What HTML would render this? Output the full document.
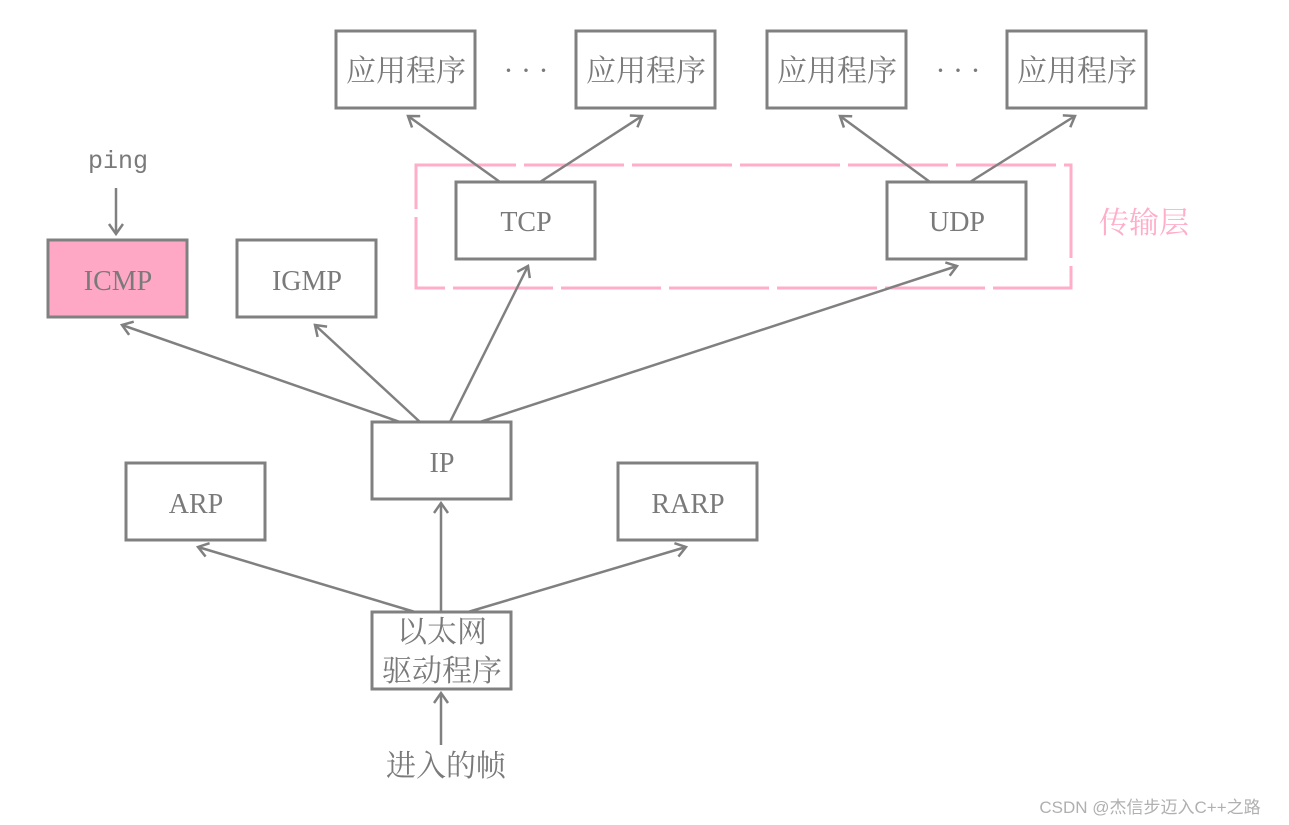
<!DOCTYPE html>
<html><head><meta charset="utf-8"><style>
html,body{margin:0;padding:0;background:#fff;}
svg{display:block;}
text{font-family:"Liberation Serif","Noto Serif CJK SC",serif;fill:#7a7a7a;}
</style></head><body>
<svg width="1289" height="825" viewBox="0 0 1289 825" xmlns="http://www.w3.org/2000/svg">
<defs>
<marker id="a" markerWidth="20" markerHeight="20" refX="12" refY="8" orient="auto" markerUnits="userSpaceOnUse">
<path d="M2,1 L12,8 L2,15" fill="none" stroke="#808080" stroke-width="2.5"/>
</marker>
</defs>
<g stroke="#808080" stroke-width="3" fill="#fff">
<rect x="336" y="31" width="139" height="77"/>
<rect x="576" y="31" width="139" height="77"/>
<rect x="767" y="31" width="139" height="77"/>
<rect x="1007" y="31" width="139" height="77"/>
<rect x="456" y="182" width="139" height="77"/>
<rect x="887" y="182" width="139" height="77"/>
<rect x="48" y="240" width="139" height="77" fill="#ffa8c5"/>
<rect x="237" y="240" width="139" height="77"/>
<rect x="372" y="422" width="139" height="77"/>
<rect x="126" y="463" width="139" height="77"/>
<rect x="618" y="463" width="139" height="77"/>
<rect x="372" y="612" width="139" height="77"/>
</g>
<rect x="416" y="165" width="655" height="123" fill="none" stroke="#ffadc8" stroke-width="3" stroke-dasharray="100 8"/>
<g stroke="#808080" stroke-width="2.5" fill="none" marker-end="url(#a)">
<line x1="500" y1="182" x2="408" y2="116"/>
<line x1="540" y1="182" x2="642" y2="116"/>
<line x1="930" y1="182" x2="840" y2="116"/>
<line x1="970" y1="182" x2="1075" y2="116"/>
<line x1="400" y1="422" x2="122" y2="325"/>
<line x1="420" y1="422" x2="315" y2="325"/>
<line x1="450" y1="422" x2="528" y2="266"/>
<line x1="480" y1="422" x2="957" y2="266"/>
<line x1="415" y1="612" x2="198" y2="547"/>
<line x1="441" y1="612" x2="441" y2="503"/>
<line x1="468" y1="612" x2="686" y2="547"/>
<line x1="441" y1="745" x2="441" y2="693"/>
<line x1="116" y1="188" x2="116" y2="234"/>
</g>
<g font-size="30" text-anchor="middle">
<text x="406" y="81">应用程序</text>
<text x="646" y="81">应用程序</text>
<text x="837" y="81">应用程序</text>
<text x="1077" y="81">应用程序</text>
<text x="526" y="80">· · ·</text>
<text x="958" y="80">· · ·</text>
<text x="526" y="231" font-size="28">TCP</text>
<text x="957" y="231" font-size="28">UDP</text>
<text x="118" y="290" font-size="28">ICMP</text>
<text x="307" y="290" font-size="28">IGMP</text>
<text x="442" y="472" font-size="28">IP</text>
<text x="196" y="513" font-size="28">ARP</text>
<text x="688" y="513" font-size="28">RARP</text>
<text x="442" y="642">以太网</text>
<text x="442" y="681">驱动程序</text>
<text x="446" y="776">进入的帧</text>
<text x="118" y="168" style="font-family:'Liberation Mono',monospace;font-size:25px">ping</text>
<text x="1144" y="233" style="fill:#ffadc8">传输层</text>
</g>
<text x="1150" y="813" text-anchor="middle" style="font-family:'Liberation Sans','Noto Sans CJK SC',sans-serif;fill:#b0b0b0;font-size:17px">CSDN @杰信步迈入C++之路</text>
</svg>
</body></html>
